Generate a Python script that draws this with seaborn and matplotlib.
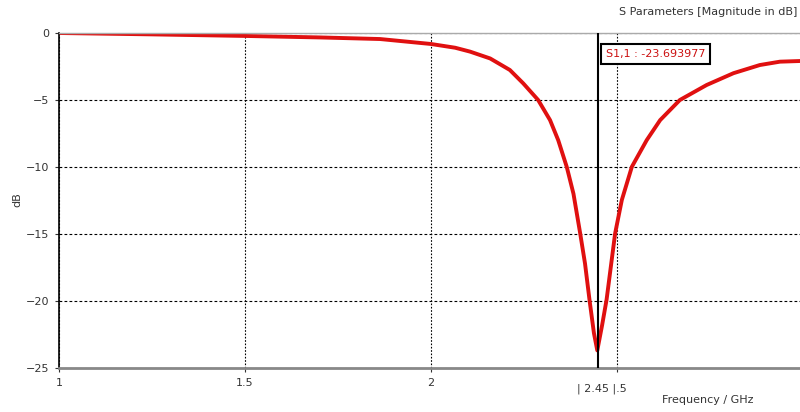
import matplotlib
matplotlib.use("Agg")
from matplotlib import pyplot as plt
import matplotlib.transforms as mtransforms
import pandas as pd
import seaborn as sns

# frequency (GHz) and |S11| (dB)
freq = [1.0, 1.245, 1.5, 1.70, 1.863, 2.0, 2.065, 2.105, 2.159, 2.212, 2.248,
        2.288, 2.320, 2.342, 2.365, 2.383, 2.401, 2.414, 2.426, 2.438, 2.447,
        2.460, 2.472, 2.495, 2.513, 2.540, 2.580, 2.616, 2.669, 2.741, 2.813,
        2.884, 2.938, 2.992]
s11_db = [0.0, -0.1, -0.22, -0.33, -0.45, -0.82, -1.1, -1.39, -1.9, -2.76, -3.76,
          -5.0, -6.5, -8.0, -10.0, -12.0, -14.95, -17.2, -19.9, -22.4, -23.69,
          -21.8, -19.9, -14.95, -12.46, -9.98, -7.99, -6.5, -5.0, -3.88, -3.0,
          -2.39, -2.14, -2.09]

x_ticks = [1, 1.5, 2, 2.5, 3]
x_tick_labels = ["1", "1.5", "2", "", "3"]
y_ticks = [0, -5, -10, -15, -20, -25]
marker_freq = 2.45
marker_text = "S1,1 : -23.693977"

df = pd.DataFrame({"freq": freq, "s11": s11_db})

sns.set_style("white")
plt.rcParams["font.family"] = ["DejaVu Sans"]

fig = plt.figure(figsize=(8, 4.12), dpi=100)
ax = fig.add_axes([59 / 800, 44 / 412, 744 / 800, 335 / 412])

sns.lineplot(data=df, x="freq", y="s11", ax=ax, color="#e01010", linewidth=2.8)
ax.lines[0].set_solid_joinstyle("round")

ax.set_xlim(1, 3)
ax.set_ylim(-25, 0)
ax.set_xticks(x_ticks)
ax.set_xticklabels(x_tick_labels)
ax.set_yticks(y_ticks)
ax.tick_params(axis="both", labelsize=8, labelcolor="#333333", length=3,
               color="#333333", direction="out", bottom=True, left=True, pad=4)

# dotted grid: dashed rows, finer dotted columns
ax.yaxis.grid(True, color="black", linestyle=(0, (2.5, 2)), linewidth=0.8)
ax.xaxis.grid(True, color="black", linestyle=(0, (1.5, 1.5)), linewidth=0.8)

ax.spines["right"].set_visible(False)
ax.spines["left"].set_color("black")
ax.spines["left"].set_linewidth(1.2)
ax.spines["bottom"].set_color("#888888")
ax.spines["bottom"].set_linewidth(2)
ax.spines["top"].set_color("#aaaaaa")
ax.spines["top"].set_linewidth(1)

# marker
ax.axvline(marker_freq, color="black", linewidth=1.5, zorder=3)
trans = mtransforms.blended_transform_factory(ax.transData, ax.transAxes)
ax.text(2.392, -0.045, "| 2.45 |.5", transform=trans, ha="left", va="top",
        fontsize=8, color="#333333")
ax.text(2.47, -1.6, marker_text, ha="left", va="center", fontsize=8,
        color="#cc1111",
        bbox=dict(boxstyle="square,pad=0.45", facecolor="white",
                  edgecolor="black", linewidth=1.5), zorder=5)

ax.set_xlabel("")
ax.set_ylabel("")
fig.text(708 / 800, 1 - 400 / 412, "Frequency / GHz", ha="center", va="center",
         fontsize=8, color="#333333")
fig.text(17 / 800, 1 - 200 / 412, "dB", ha="center", va="center",
         rotation=90, fontsize=8, color="#333333")
fig.text(797 / 800, 1 - 12 / 412, "S Parameters [Magnitude in dB]", ha="right",
         va="center", fontsize=8, color="#333333")

fig.savefig("out.png", dpi=100)
